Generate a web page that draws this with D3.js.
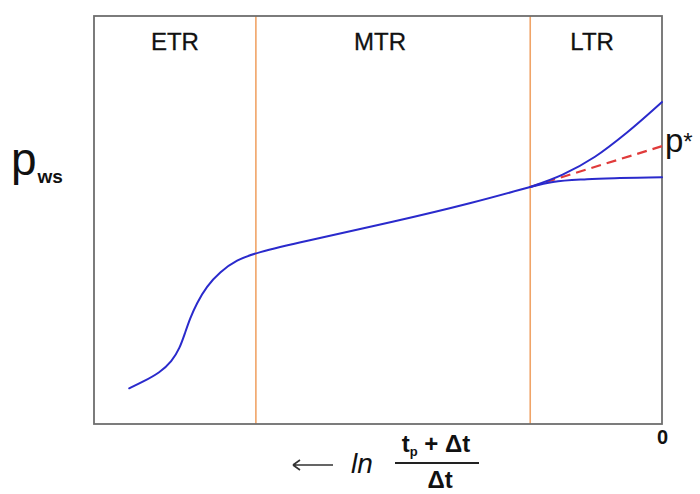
<!DOCTYPE html>
<html>
<head>
<meta charset="utf-8">
<script src="https://cdn.jsdelivr.net/npm/d3@7"></script>
<style>
  html, body { margin: 0; padding: 0; background: #fff; }
  svg { display: block; font-family: "Liberation Sans", Arial, sans-serif; }
</style>
</head>
<body>
<svg id="chart" width="700" height="494"></svg>
<script>
// ---- data (x = ln((tp+Δt)/Δt), decreasing to the right) ----
const regionNames = ["ETR", "MTR", "LTR"];
const regionBounds = [7.15, 2.32];          // x positions of the vertical region dividers
const xTickLabels = ["0"];
const xTickValues = [0];

const mainX = [9.38, 9.13, 8.84, 8.63, 8.49, 8.40, 8.31, 8.19, 8.02, 7.78, 7.49, 7.14, 6.37, 4.70, 3.30, 2.32];
const mainY = [0.875, 1.04, 1.26, 1.53, 1.86, 2.22, 2.59, 2.96, 3.37, 3.73, 4.02, 4.20, 4.46, 4.96, 5.43, 5.81];

const upperX = [2.32, 1.75, 1.18, 0.61, 0];
const upperY = [5.81, 6.11, 6.55, 7.15, 7.89];

const lowerX = [2.32, 1.92, 1.32, 0.74, 0];
const lowerY = [5.81, 5.93, 6.00, 6.03, 6.05];

const pStarX = [2.32, 0];
const pStarY = [5.81, 6.81];

// ---- layout ----
const svg = d3.select("#chart");
const frame = { left: 94, top: 16, right: 662, bottom: 424 };
const x = d3.scaleLinear().domain([10, 0]).range([frame.left, frame.right]);
const y = d3.scaleLinear().domain([0, 10]).range([frame.bottom, frame.top]);

const zip = (xs, ys) => xs.map((v, i) => [v, ys[i]]);
const mainLine = d3.line().x(d => x(d[0])).y(d => y(d[1])).curve(d3.curveBasis);
const branchLine = d3.line().x(d => x(d[0])).y(d => y(d[1])).curve(d3.curveMonotoneX);

// region dividers
svg.selectAll("line.divider").data(regionBounds).join("line")
  .attr("class", "divider")
  .attr("x1", d => x(d)).attr("x2", d => x(d))
  .attr("y1", frame.top).attr("y2", frame.bottom)
  .attr("stroke", "#f0a468").attr("stroke-width", 1.6);

// frame
svg.append("rect")
  .attr("x", frame.left).attr("y", frame.top)
  .attr("width", frame.right - frame.left).attr("height", frame.bottom - frame.top)
  .attr("fill", "none").attr("stroke", "#6e6e6e").attr("stroke-width", 1.8);

// x axis tick label "0" via d3 axis
const xAxis = d3.axisBottom(x).tickValues(xTickValues).tickFormat((d, i) => xTickLabels[i]).tickSize(0).tickPadding(6);
const gx = svg.append("g").attr("transform", `translate(0,${frame.bottom})`).call(xAxis);
gx.select(".domain").remove();
gx.selectAll("text").attr("font-size", 20).attr("font-weight", "bold")
  .attr("fill", "#111").attr("font-family", "'Liberation Sans', Arial, sans-serif");

// region labels
const edges = [10, ...regionBounds, 0];
const labelShift = [0, -13, -4];
svg.selectAll("text.region").data(regionNames).join("text")
  .attr("class", "region")
  .attr("x", (d, i) => (x(edges[i]) + x(edges[i + 1])) / 2 + labelShift[i])
  .attr("y", 50)
  .attr("text-anchor", "middle")
  .attr("font-size", 24)
  .attr("fill", "#111")
  .attr("stroke", "#111").attr("stroke-width", 0.3)
  .text(d => d);

// p* dashed extrapolation
svg.append("path")
  .datum(zip(pStarX, pStarY))
  .attr("d", d3.line().x(d => x(d[0])).y(d => y(d[1])))
  .attr("fill", "none").attr("stroke", "#e03a3a").attr("stroke-width", 2.2)
  .attr("stroke-dasharray", "10,6");

// curves
svg.append("path").datum(zip(mainX, mainY))
  .attr("d", mainLine)
  .attr("fill", "none").attr("stroke", "#2a2acc").attr("stroke-width", 2)
  .attr("stroke-linecap", "round");
[zip(upperX, upperY), zip(lowerX, lowerY)].forEach(pts => {
  svg.append("path").datum(pts)
    .attr("d", branchLine)
    .attr("fill", "none").attr("stroke", "#2a2acc").attr("stroke-width", 2)
    .attr("stroke-linecap", "round");
});

// y label p_ws
const yl = svg.append("text").attr("x", 11).attr("y", 175).attr("fill", "#111");
yl.append("tspan").attr("font-size", 46).text("p");
yl.append("tspan").attr("font-size", 19).attr("font-weight", "bold").attr("dy", 8).attr("dx", 1).text("ws");

// p* label
const ps = svg.append("text").attr("x", 665).attr("y", 152).attr("fill", "#111");
ps.append("tspan").attr("font-size", 33).text("p");
ps.append("tspan").attr("font-size", 24).attr("dy", -2).text("*");

// x axis title: ⟵ ln (tp + Δt)/Δt
const ax = svg.append("g");
ax.append("path")
  .attr("d", "M293,465 L333,465 M293,465 L300,460 M293,465 L300,470")
  .attr("fill", "none").attr("stroke", "#333").attr("stroke-width", 1.6);
ax.append("text").attr("x", 351).attr("y", 473)
  .attr("font-size", 28).attr("font-style", "italic").attr("fill", "#111").text("ln");
const num = ax.append("text").attr("x", 436).attr("y", 452).attr("text-anchor", "middle")
  .attr("font-size", 24).attr("font-weight", "bold").attr("fill", "#111");
num.append("tspan").text("t");
num.append("tspan").attr("font-size", 13).attr("dy", 4).text("p");
num.append("tspan").attr("dy", -4).text(" + Δt");
ax.append("line").attr("x1", 395).attr("x2", 479).attr("y1", 463).attr("y2", 463)
  .attr("stroke", "#222").attr("stroke-width", 1.8);
ax.append("text").attr("x", 440).attr("y", 488).attr("text-anchor", "middle")
  .attr("font-size", 24).attr("font-weight", "bold").attr("fill", "#111").text("Δt");
</script>
</body>
</html>
